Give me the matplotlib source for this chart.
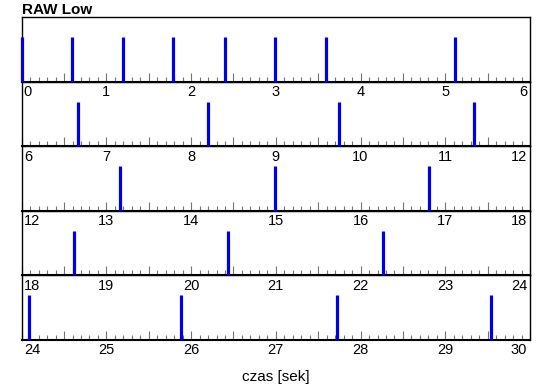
import numpy as np
import matplotlib
matplotlib.use('Agg')
import matplotlib.pyplot as plt
from matplotlib.ticker import MultipleLocator, NullFormatter

# event times [s]
events = [0.0, 0.59, 1.20, 1.79, 2.40, 2.99, 3.59, 5.11,
          6.66, 8.20, 9.75, 11.34,
          13.16, 14.99, 16.81,
          18.62, 20.44, 22.26,
          24.09, 25.88, 27.72, 29.54]
heights = [1.0] * len(events)
row_starts = [0, 6, 12, 18, 24]
row_len = 6

plt.rcParams['font.family'] = ['Liberation Sans', 'DejaVu Sans']

fig, axes = plt.subplots(len(row_starts), 1, figsize=(5.5, 3.89), dpi=100)
fig.subplots_adjust(left=0.0395, right=0.9636, top=0.956, bottom=0.126, hspace=0)

ev = np.array(events)
hs = np.array(heights)
for i, (ax, x0) in enumerate(zip(axes, row_starts)):
    x1 = x0 + row_len
    ax.set_zorder(len(axes) - i)
    m = (ev >= x0) & (ev < x1)
    ax.vlines(ev[m], 0, hs[m], color='#0000e6', lw=2.3, clip_on=False, zorder=3)
    ax.set_xlim(x0, x1)
    ax.set_ylim(0, 1.45)
    ax.set_yticks([])
    ax.xaxis.set_major_locator(MultipleLocator(0.5))
    ax.xaxis.set_minor_locator(MultipleLocator(0.1))
    ax.xaxis.set_major_formatter(NullFormatter())
    ax.tick_params(axis='x', which='major', direction='in', length=6.5, width=0.8,
                   color='0.45')
    ax.tick_params(axis='x', which='minor', direction='in', length=3.5, width=0.8,
                   color='0.45')
    for side in ['top', 'left', 'right']:
        ax.spines[side].set_linewidth(1.0)
    ax.spines['bottom'].set_linewidth(1.5)
    # ROOT-style labels: edge labels pushed inside the frame
    for v in range(x0, x1 + 1):
        if v == x0:
            ha, dx = 'left', 1.5
        elif v == x1:
            ha, dx = 'right', -2
        else:
            ha, dx = 'center', 0
        ax.annotate(str(v), xy=(v, 0), xycoords=('data', 'axes fraction'),
                    xytext=(dx, -2.5), textcoords='offset points',
                    ha=ha, va='top', fontsize=10.5, annotation_clip=False)

axes[0].set_title('RAW Low', loc='left', fontsize=11, fontweight='bold', pad=2)
axes[-1].set_xlabel('czas [sek]', fontsize=11, labelpad=18)

fig.savefig('out.png', dpi=100)
